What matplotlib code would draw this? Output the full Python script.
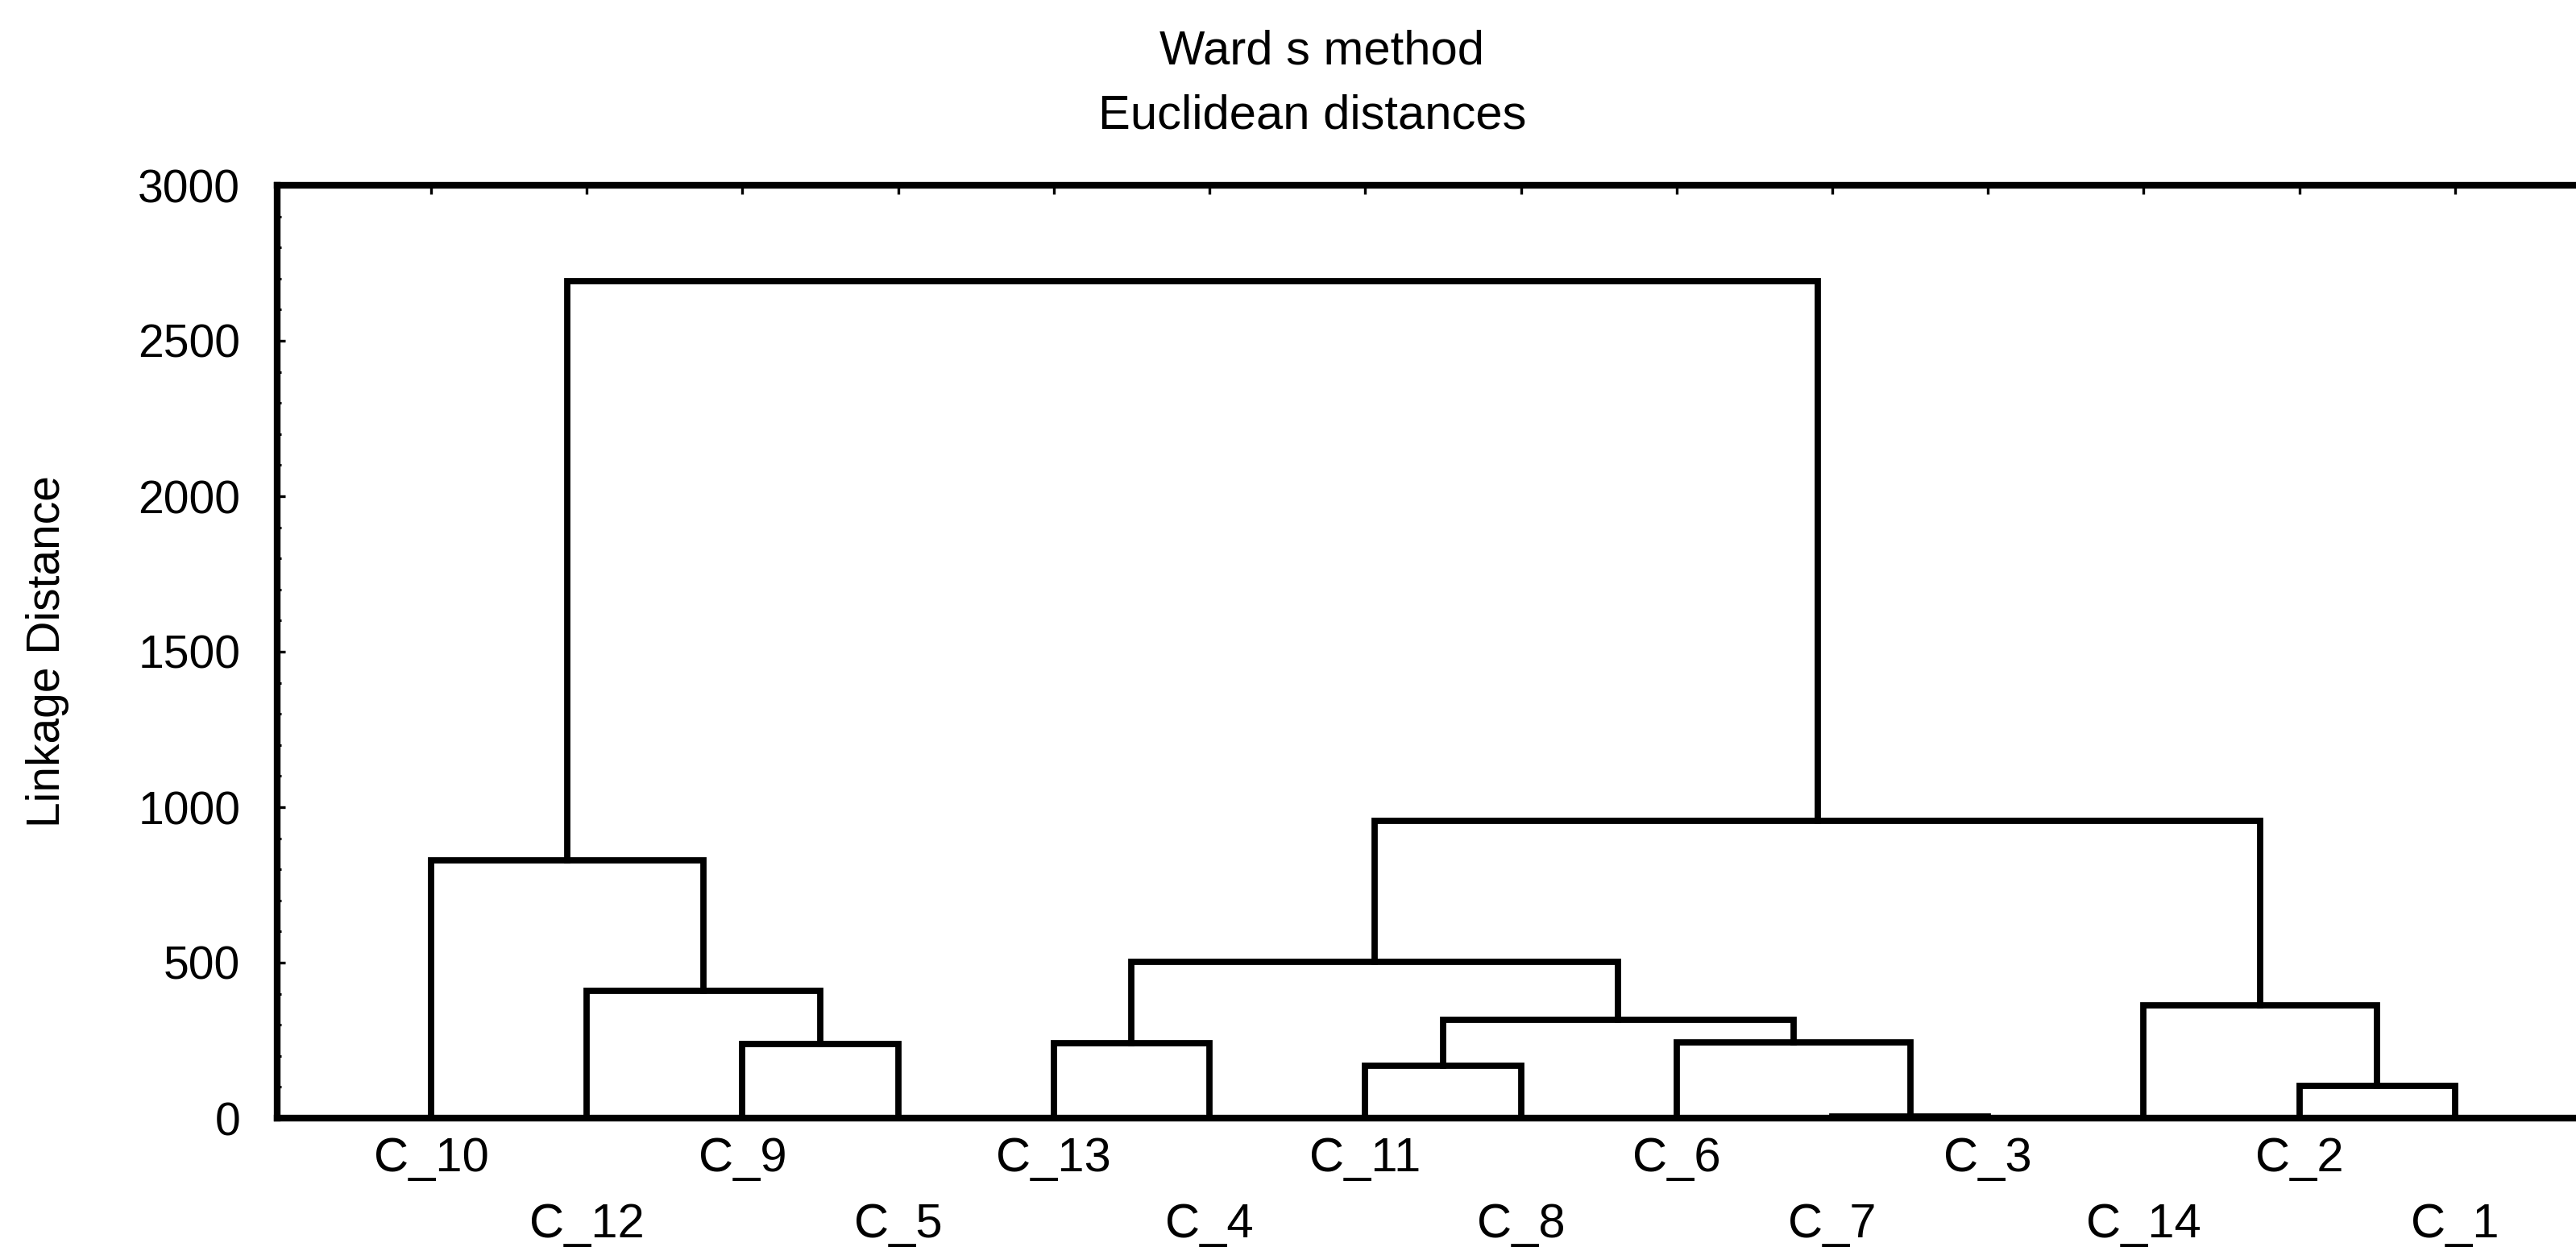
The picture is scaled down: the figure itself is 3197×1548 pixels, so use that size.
import matplotlib
matplotlib.use("Agg")
import matplotlib.pyplot as plt
import matplotlib.transforms as mtransforms
from matplotlib.ticker import MultipleLocator

plt.rcParams['font.family'] = ['Liberation Sans', 'DejaVu Sans']

# leaf order along the x axis
leaves = ["C_10", "C_12", "C_9", "C_5", "C_13", "C_4", "C_11",
          "C_8", "C_6", "C_7", "C_3", "C_14", "C_2", "C_1"]

# merges: (left node, right node, linkage distance); new clusters are M0, M1, ...
merge_left = ["C_7", "C_2", "C_11", "C_9", "C_13", "C_6", "M2",
              "C_14", "C_12", "M4", "C_10", "M9", "M10"]
merge_right = ["C_3", "C_1", "C_8", "C_5", "C_4", "M0", "M5",
               "M1", "M3", "M6", "M8", "M7", "M11"]
merge_height = [4, 104, 168, 238, 241, 243, 316,
                363, 409, 503, 829, 956, 2692]

y_ticks = [0, 500, 1000, 1500, 2000, 2500, 3000]

W, H = 3197, 1548
fig = plt.figure(figsize=(W / 100, H / 100), dpi=100)
ax = fig.add_axes([344 / W, (H - 1388) / H, 2896 / W, 1158 / H])

# node positions
pos = {name: (i + 1, 0.0) for i, name in enumerate(leaves)}
for k, (a, b, h) in enumerate(zip(merge_left, merge_right, merge_height)):
    xa, ha = pos[a]
    xb, hb = pos[b]
    ax.plot([xa, xa, xb, xb], [ha, h, h, hb], color="black", lw=5.6,
            solid_joinstyle="miter", solid_capstyle="projecting", zorder=3)
    pos[f"M{k}"] = ((xa + xb) / 2, h)

ax.set_xlim(1 - 191 / 193.2, 15)
ax.set_ylim(0, 3000)

for side in ["left", "top", "bottom"]:
    ax.spines[side].set_linewidth(6)
ax.spines["right"].set_visible(False)

# y axis
ax.set_yticks(y_ticks)
ax.set_yticklabels([str(v) for v in y_ticks], fontsize=41)
ax.yaxis.set_minor_locator(MultipleLocator(100))
ax.tick_params(axis="y", which="major", direction="in", length=7, width=2.4, pad=33)
ax.tick_params(axis="y", which="minor", direction="in", length=3.5, width=2.2)
ax.set_ylabel("Linkage Distance", fontsize=41)
ax.yaxis.set_label_coords(-0.0891, 0.5)

# x axis: ticks on top at each leaf, labels staggered below
ax.set_xticks(range(1, len(leaves) + 1))
ax.xaxis.set_ticks_position("top")
ax.tick_params(axis="x", direction="in", length=8, width=2.4, labeltop=False)

trans = mtransforms.blended_transform_factory(ax.transData, ax.transAxes)
row_y = [(1388 - 1439) / 1158, (1388 - 1520) / 1158]
for i, name in enumerate(leaves):
    ax.text(i + 1, row_y[i % 2], name, transform=trans, ha="center",
            va="center", fontsize=43, clip_on=False)

fig.text(1640 / W, 1 - 64 / H, "Ward s method", ha="center", va="center", fontsize=43)
fig.text(1629 / W, 1 - 144 / H, "Euclidean distances", ha="center", va="center", fontsize=43)

fig.savefig("out.png", dpi=100)
